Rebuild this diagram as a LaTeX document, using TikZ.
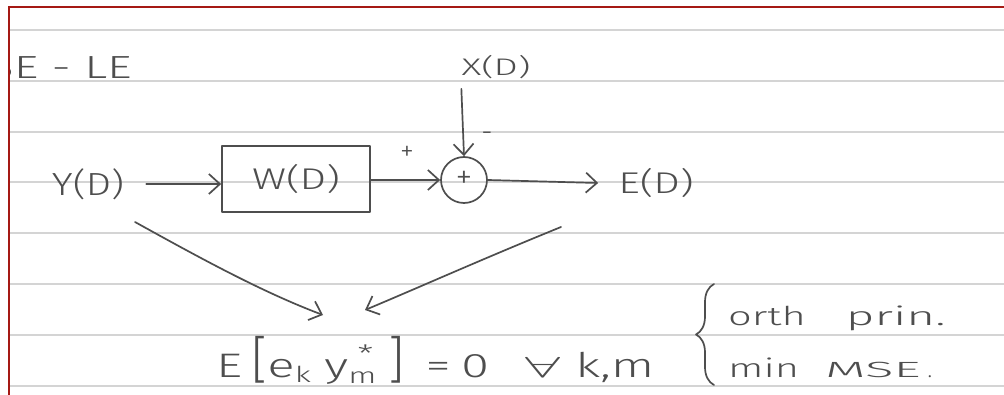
\documentclass[tikz,border=0pt]{standalone}
\usepackage{fontspec}
\usetikzlibrary{arrows.meta,decorations.pathreplacing,calc}
\newfontfamily\hand{Fira Sans Light}
\definecolor{ink}{RGB}{78,78,78}
\definecolor{rulegray}{RGB}{212,212,212}
\definecolor{margin}{RGB}{165,25,20}
\newcommand\hs[1]{\hand\fontsize{#1}{#1}\selectfont}
\begin{document}
\begin{tikzpicture}[x=1pt,y=-1pt,
  pen/.style={draw=ink, line width=1.7pt, line cap=round, line join=round},
  arr/.style={pen, -{Straight Barb[length=11pt,width=20pt,line width=1.7pt]}},
  lbl/.style={text=ink, inner sep=0pt},
  ruleline/.style={draw=rulegray, line width=2.5pt},
]
\useasboundingbox (0,0) rectangle (1004,395);
\fill[white] (0,0) rectangle (1004,395);
\foreach \y in {30,81,132,182,233,284,335,386} \draw[ruleline] (10,\y) -- (1004,\y);
\draw[draw=margin, line width=2pt] (9,395) -- (9,7) -- (1004,7);

\begin{scope}
\clip (10,0) rectangle (1004,395);
\node[lbl, anchor=east] (title) at (132,68) {\hs{32}\scalebox{1.5}[1]{MMSE - LE}};
\end{scope}

\node[lbl] (X) at (496,67) {\hs{24}\scalebox{1.6}[1]{X(D)}};
\node[lbl] (Y) at (88,184) {\hs{32}\scalebox{1.25}[1]{Y(D)}};
\node[pen, lbl, minimum width=148pt, minimum height=66pt] (W) at (296,179) {\hs{30}\scalebox{1.4}[1]{W(D)}};
\node[pen, lbl, circle, minimum size=46pt] (S) at (464,180) {\hs{34}+};
\node[lbl] (E) at (656,183) {\hs{30}\scalebox{1.4}[1]{E(D)}};
\node[lbl] (plus) at (407,153) {\hs{28}+};
\node[lbl] (minus) at (487,137) {\hs{28}-};

\node[lbl, anchor=west] (eq) at (216,360) {\hs{34}\scalebox{1.5}[1]{E\hspace{6pt}\scalebox{1}[1.5]{[}e\raisebox{-5pt}{\hs{22}k}\hspace{9pt}y\raisebox{-6pt}{\hs{22}m}\llap{\raisebox{15pt}{\hs{24}*}\hspace{2pt}}\hspace{8pt}\scalebox{1}[1.5]{]}\hspace{14pt}=\hspace{7pt}0\hspace{24pt}{\fontsize{10}{12}\selectfont\scalebox{4.2}[2.9]{$\forall$}}\hspace{10pt}k,m}};

\draw[pen, decorate, decoration={brace, amplitude=18pt}] (714,385) -- (714,284);
\node[lbl, anchor=west] (orth) at (728,318) {\hs{26}\scalebox{1.6}[1]{orth}\hspace{40pt}\scalebox{1.9}[1]{prin.}};
\node[lbl, anchor=west] (mmse) at (728,368) {\hs{26}\scalebox{1.6}[1]{min}\hspace{26pt}{\hs{22}\scalebox{2.4}[1]{MSE}\hspace{7pt}.}};

\draw[arr] ([xshift=22pt]Y.east) -- (W.west |- Y.east);
\draw[arr] (W.east |- S.west) -- (S.west);
\draw[arr] ($(X.south west)+(0,10)$) -- (S.north);
\draw[arr] (S.east) -- ($(E.west)+(-20,0)$);

\coordinate (c1) at (135,222);
\coordinate (c2) at (323,315);
\coordinate (c3) at (561,227);
\coordinate (c4) at (365,310);
\draw[arr] (c1) .. controls (200,258) and (262,292) .. (c2);
\draw[arr] (c3) .. controls (480,260) and (420,287) .. (c4);
\end{tikzpicture}
\end{document}
